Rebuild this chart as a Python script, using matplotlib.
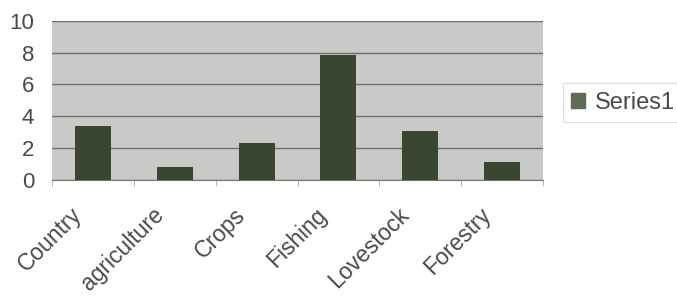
import matplotlib.pyplot as plt
import matplotlib.transforms as mtransforms
import numpy as np

# values
categories = ['Country', 'agriculture', 'Crops', 'Fishing', 'Lovestock', 'Forestry']
values = [3.4, 0.8, 2.3, 7.85, 3.1, 1.15]
y_ticks = [0, 2, 4, 6, 8, 10]

plt.rcParams['font.family'] = ['Liberation Sans', 'DejaVu Sans']

fig = plt.figure(figsize=(6.77, 3.0), dpi=100)
ax = fig.add_axes([0.077, 0.40, 0.725, 0.531])
ax.set_facecolor('#c9cac7')

x = np.arange(len(categories))
ax.bar(x, values, width=0.44, color='#3b4632', label='Series1', zorder=3)

ax.set_xlim(-0.5, len(categories) - 0.5)
ax.set_ylim(0, 10)
ax.set_yticks(y_ticks)
ax.yaxis.grid(True, color='#6e6e6e', linewidth=1.0, zorder=1)
ax.tick_params(axis='y', labelsize=16, labelcolor='#4a4a4a', length=0, pad=13)

ax.set_xticks(x)
ax.set_xticklabels(categories, rotation=45, ha='right', va='top',
                   rotation_mode='anchor', fontsize=16.5, color='#4a4a4a')
ax.set_xticks(np.arange(len(categories) + 1) - 0.5, minor=True)
ax.tick_params(axis='x', which='major', length=0, pad=22)
ax.tick_params(axis='x', which='minor', length=4, color='#aaaaaa')

# nudge the rotated labels left, like the Excel layout
shift = mtransforms.ScaledTranslation(-0.23, 0.07, fig.dpi_scale_trans)
for lab in ax.get_xticklabels():
    lab.set_transform(lab.get_transform() + shift)

for side in ['top', 'right', 'left']:
    ax.spines[side].set_visible(False)
ax.spines['bottom'].set_color('#777777')

leg = fig.legend(loc='center left', bbox_to_anchor=(0.8316, 0.658), fontsize=17,
                 frameon=True, fancybox=False, handlelength=0.6, handleheight=0.6,
                 handletextpad=0.42, borderpad=0.35, borderaxespad=0)
leg.get_frame().set_edgecolor('#d6d6d6')
leg.get_frame().set_linewidth(0.8)
for t in leg.get_texts():
    t.set_color('#4a4a4a')
for h in leg.legend_handles:
    h.set_color('#5f6a58')

fig.savefig('out.png', dpi=100)
